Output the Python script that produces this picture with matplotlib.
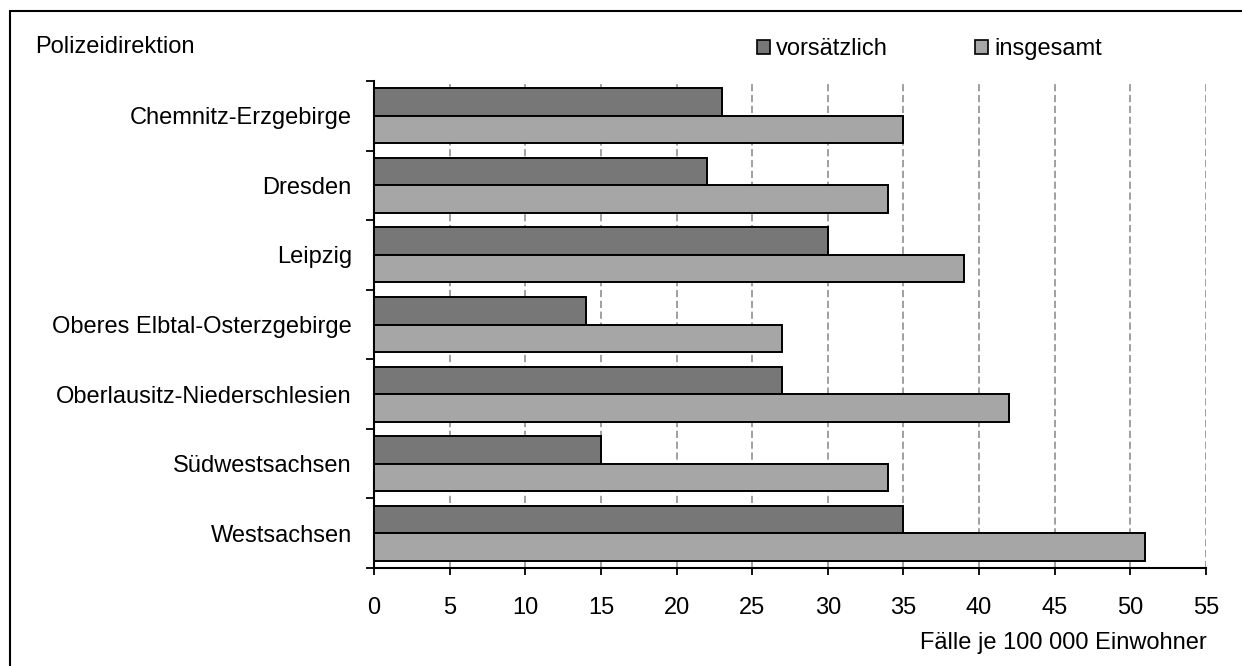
import matplotlib.pyplot as plt
import numpy as np
from matplotlib.patches import Patch, Rectangle

plt.rcParams['font.family'] = ['Liberation Sans', 'DejaVu Sans']

# Data
regions = ['Chemnitz-Erzgebirge', 'Dresden', 'Leipzig', 'Oberes Elbtal-Osterzgebirge',
           'Oberlausitz-Niederschlesien', 'Südwestsachsen', 'Westsachsen']
vorsaetzlich = [23, 22, 30, 14, 27, 15, 35]
insgesamt = [35, 34, 39, 27, 42, 34, 51]
x_ticks = list(range(0, 60, 5))

dark = '#777777'
light = '#a6a6a6'
fs = 17

fig = plt.figure(figsize=(12.42, 6.66), dpi=100)
W, H = 1242, 666
ax = fig.add_axes([374 / W, 1 - 568 / H, (1206 - 374) / W, (568 - 81) / H])

y = np.arange(len(regions))
h = 0.395
ax.barh(y - h / 2, vorsaetzlich, height=h, color=dark, edgecolor='black', linewidth=1.4, zorder=3)
ax.barh(y + h / 2, insgesamt, height=h, color=light, edgecolor='black', linewidth=1.4, zorder=3)

ax.set_xlim(0, 55)
ax.set_ylim(len(regions) - 0.5, -0.5)

# dashed vertical gridlines
for v in x_ticks[1:]:
    ax.axvline(v, color='#999999', linestyle=(0, (4, 2)), linewidth=1.3, zorder=1)

ax.set_xticks(x_ticks)
ax.set_xticklabels([str(v) for v in x_ticks], fontsize=fs)
ax.tick_params(axis='x', direction='out', length=5, width=1.3, pad=16)

# group separator ticks on y, labels on centers
ax.set_yticks(np.arange(len(regions) + 1) - 0.5)
ax.set_yticklabels([])
ax.set_yticks(y, minor=True)
ax.set_yticklabels(regions, minor=True, fontsize=fs)
ax.tick_params(axis='y', which='major', direction='out', length=6, width=1.3)
ax.tick_params(axis='y', which='minor', length=0, pad=16)

for s in ['top', 'right']:
    ax.spines[s].set_visible(False)
ax.spines['left'].set_linewidth(1.5)
ax.spines['bottom'].set_linewidth(1.5)

fig.text(35 / W, 1 - 47 / H, 'Polizeidirektion', fontsize=fs, ha='left', va='center')
fig.text(1207 / W, 1 - 643 / H, 'Fälle je 100 000 Einwohner', fontsize=fs, ha='right', va='center')

handles = [Patch(facecolor=dark, edgecolor='black', linewidth=1.2),
           Patch(facecolor=light, edgecolor='black', linewidth=1.2)]
fig.legend(handles, ['vorsätzlich', 'insgesamt'], loc='center left',
           bbox_to_anchor=(757 / W, 1 - 49 / H), ncol=2, frameon=False, fontsize=fs,
           handlelength=0.55, handleheight=0.55, handletextpad=0.25, columnspacing=3.7,
           borderpad=0, borderaxespad=0)

# outer frame
fig.patches.append(Rectangle((10 / W, -0.1), 1.2, 1 - 11 / H + 0.1, transform=fig.transFigure,
                             fill=False, edgecolor='black', linewidth=1.5))

fig.savefig('out.png', dpi=100)
